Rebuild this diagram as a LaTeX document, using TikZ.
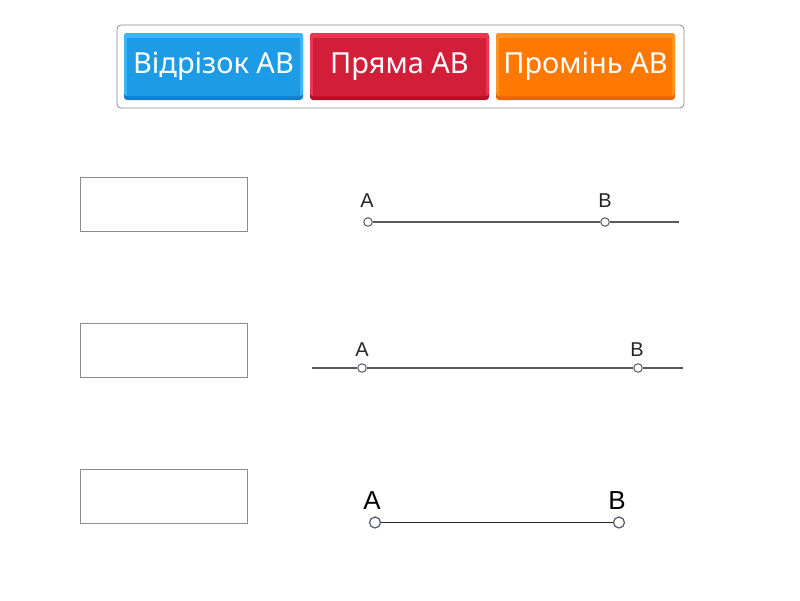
\documentclass[tikz,border=0pt]{standalone}
\usepackage{fontspec}
\setmainfont{Liberation Sans}
\newfontfamily\btnfont{Noto Sans}
\definecolor{bluebtn}{HTML}{1E9BE6}
\definecolor{bluetop}{HTML}{3DB4F5}
\definecolor{bluebot}{HTML}{0E7FCC}
\definecolor{redbtn}{HTML}{D21E38}
\definecolor{redtop}{HTML}{E8364E}
\definecolor{redbot}{HTML}{B80F26}
\definecolor{orbtn}{HTML}{FF7800}
\definecolor{ortop}{HTML}{FF9220}
\definecolor{orbot}{HTML}{EE6400}
\definecolor{ptcol}{HTML}{505868}
\definecolor{lncol}{HTML}{5A5A5A}
\begin{document}
\begin{tikzpicture}[x=1pt,y=-1pt,
  btn/.style={rounded corners=3pt,minimum width=179pt,minimum height=67pt,inner sep=0pt,text=white,font=\btnfont\fontsize{29}{32}\selectfont},
  ansbox/.style={draw=black!45,line width=0.8pt,minimum width=167pt,minimum height=54pt,inner sep=0pt},
  pt/.style={circle,draw=ptcol,fill=white,line width=1pt,minimum size=8.5pt,inner sep=0pt},
  lbl/.style={font=\fontsize{20}{22}\selectfont,text=black!85,inner sep=0pt},
  lblbig/.style={font=\fontsize{26}{30}\selectfont,text=black,inner sep=0pt},
  seg/.style={draw=lncol,line width=1.6pt}]
\useasboundingbox (0,0) rectangle (800,600);
% outer frame
\node[draw=black!45,line width=0.8pt,rounded corners=4pt,minimum width=567pt,minimum height=83pt,inner sep=0pt] (frame) at (400.5,66.5) {};
% buttons
\fill[bluebot,rounded corners=3pt] (124,33) rectangle (303,100);
\fill[bluetop,rounded corners=3pt] (124,33) rectangle (303,96);
\fill[bluebtn] (127,38) rectangle (300,96);
\node[btn] (b1) at (213.5,66.5) {Відрізок AB};
\fill[redbot,rounded corners=3pt] (310,33) rectangle (489,100);
\fill[redtop,rounded corners=3pt] (310,33) rectangle (489,96);
\fill[redbtn] (313,38) rectangle (486,96);
\node[btn] (b2) at (399.5,66.5) {Пряма AB};
\fill[orbot,rounded corners=3pt] (496,33) rectangle (675,100);
\fill[ortop,rounded corners=3pt] (496,33) rectangle (675,96);
\fill[orbtn] (499,38) rectangle (672,96);
\node[btn] (b3) at (585.5,66.5) {Промінь AB};
% answer boxes
\node[ansbox] (box1) at (163.5,204) {};
\node[ansbox] (box2) at (163.5,350.5) {};
\node[ansbox] (box3) at (163.5,496.5) {};
% figure 1: ray
\coordinate (r1e) at (679,222);
\node[pt] (A1) at (368,222) {};
\node[pt] (B1) at (605,222) {};
\draw[seg] (A1) -- (B1);
\draw[seg] (B1) -- (r1e);
\node[lbl] (lA1) at (367,201) {A};
\node[lbl] (lB1) at (605,201) {B};
% figure 2: line
\coordinate (l2s) at (312,368);
\coordinate (l2e) at (683,368);
\node[pt] (A2) at (362,368) {};
\node[pt] (B2) at (638,368) {};
\draw[seg] (l2s) -- (A2);
\draw[seg] (A2) -- (B2);
\draw[seg] (B2) -- (l2e);
\node[lbl] (lA2) at (362,350) {A};
\node[lbl] (lB2) at (637,350) {B};
% figure 3: segment
\node[pt,minimum size=11pt,line width=1.2pt] (A3) at (375,522.5) {};
\node[pt,minimum size=11pt,line width=1.2pt] (B3) at (619,522.5) {};
\draw[draw=black!85,line width=1.6pt] (A3) -- (B3);
\node[lblbig] (lA3) at (372,501) {A};
\node[lblbig] (lB3) at (617,501) {B};
\end{tikzpicture}
\end{document}
